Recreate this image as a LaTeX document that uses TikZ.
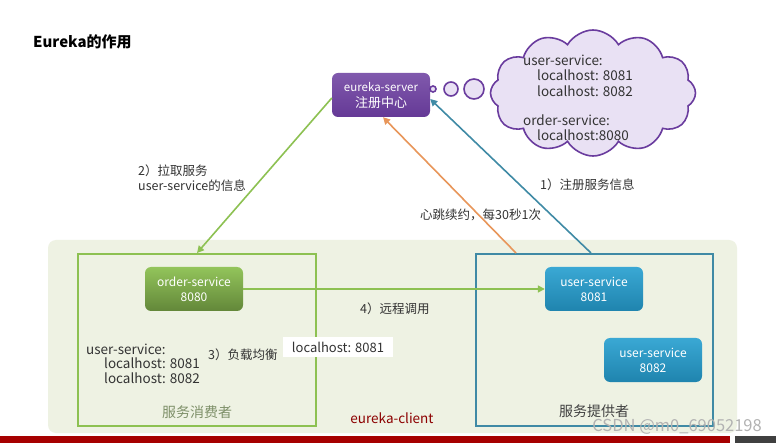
\documentclass[tikz,border=0pt]{standalone}
\usepackage{fontspec}
\setmainfont{Noto Sans CJK SC}
\usetikzlibrary{shapes.symbols,arrows.meta}
\definecolor{purp}{HTML}{6A3C9E}
\definecolor{lav}{HTML}{E9E1F4}
\definecolor{bgg}{HTML}{EEF2E3}
\definecolor{gline}{HTML}{8DC152}
\definecolor{tline}{HTML}{3F8AA5}
\definecolor{oline}{HTML}{E8965A}
\definecolor{bluetop}{HTML}{3AA8D4}
\definecolor{bluebot}{HTML}{1F84AE}
\definecolor{txt}{HTML}{333333}
\tikzset{
  x=1pt,y=-1pt,
  every node/.style={font=\fontsize{12.5}{15}\selectfont, text=txt, inner sep=0pt},
  svc/.style={rounded corners=6pt, minimum width=98pt, minimum height=44pt, align=center, text=white, font=\fontsize{12}{15}\selectfont},
  purpbox/.style={svc, top color=purp!85!white, bottom color=purp!95!black, font=\fontsize{11.5}{16}\selectfont},
  greenbox/.style={svc, top color=gline!95!white, bottom color=gline!70!black},
  bluebox/.style={svc, top color=bluetop, bottom color=bluebot},
  lbl/.style={anchor=west, align=left},
  big/.style={lbl, font=\fontsize{13.5}{16}\selectfont},
  bubble/.style={circle, draw=purp, fill=lav, line width=1.6pt},
  arr/.style={line width=1.6pt, -{Triangle[width=7pt,length=7pt]}}
}
\begin{document}
\begin{tikzpicture}
\useasboundingbox (0,0) rectangle (776,443);
\fill[white] (0,0) rectangle (776,443);
% title
\node[anchor=west, font=\fontsize{15}{17}\selectfont\bfseries, text=black] (title) at (33,42) {Eureka的作用};
% background client area
\fill[bgg, rounded corners=8pt] (48,240) rectangle (737,433);
\node[draw=gline, line width=1.6pt, minimum width=238pt, minimum height=172pt, anchor=north west] (consumer) at (77,253) {};
\node[draw=tline, line width=1.6pt, minimum width=237pt, minimum height=172pt, anchor=north west] (provider) at (475,253) {};
% eureka server
\node[purpbox] (server) at (381,95) {eureka-server\\{\fontsize{13}{16}\selectfont 注册中心}};
% bubbles
\node[bubble, minimum size=6pt] (b1) at (433,89) {};
\node[bubble, minimum size=14pt] (b2) at (451,89) {};
\node[bubble, minimum size=20pt] (b3) at (474,89) {};
% cloud
\node[cloud, cloud puffs=12, cloud puff arc=120, aspect=1.65, draw=purp, fill=lav, line width=1.6pt, minimum width=205pt, minimum height=126pt] (cloud) at (593,93) {};
\node[big] (c1) at (523,60) {user-service:};
\node[big] (c2) at (537,75) {localhost: 8081};
\node[big] (c3) at (537,91) {localhost: 8082};
\node[big] (c4) at (523,120) {order-service:};
\node[big] (c5) at (537,135) {localhost:8080};
% services
\node[greenbox] (order) at (194,289) {order-service\\8080};
\node[bluebox] (us1) at (594,289) {user-service\\8081};
\node[bluebox] (us2) at (653,360) {user-service\\8082};
% anchors on box tops
\coordinate (ctop) at (197,253);
\coordinate (ptopo) at (516,253);
\coordinate (ptopt) at (591,253);
% arrows
\draw[arr, gline] ([yshift=-3pt]server.west) -- (ctop);
\draw[arr, oline] (ptopo) -- ([xshift=2pt]server.south);
\draw[arr, tline] (ptopt) -- ([yshift=-4pt]server.east);
\draw[arr, gline] (order.east) -- (us1.west);
% labels
\node[lbl] (l2) at (138,178) {2）拉取服务\\user-service的信息};
\node[lbl] (l1) at (540,185) {1）注册服务信息};
\node[lbl] (lh) at (420,215) {心跳续约，每30秒1次};
\node[lbl] (l4) at (360,309) {4）远程调用};
\node[lbl] (l3) at (208,355) {3）负载均衡};
\node[big] (u1) at (86,349) {user-service:};
\node[big] (u2) at (104,363) {localhost: 8081};
\node[big] (u3) at (104,378) {localhost: 8082};
\node[fill=white, minimum width=110pt, minimum height=20pt, font=\fontsize{13}{15}\selectfont] (lbox) at (338,347) {localhost: 8081};
\node[font=\fontsize{14}{16}\selectfont, text=gline!50!black!70!white] (cname) at (197,412) {服务消费者};
\node[font=\fontsize{14}{16}\selectfont, text=black!75] (pname) at (594,411) {服务提供者};
\node[font=\fontsize{13.5}{16}\selectfont, text=red!55!black] (client) at (392,418) {eureka-client};
% bottom bar
\fill[red!65!black] (0,436) rectangle (730,443);
\fill[black!75] (735,436) rectangle (776,443);
\node[font=\fontsize{16.5}{18}\selectfont, text=black!30, anchor=east] (wm) at (762,427) {CSDN @m0\_69052198};
\end{tikzpicture}
\end{document}
